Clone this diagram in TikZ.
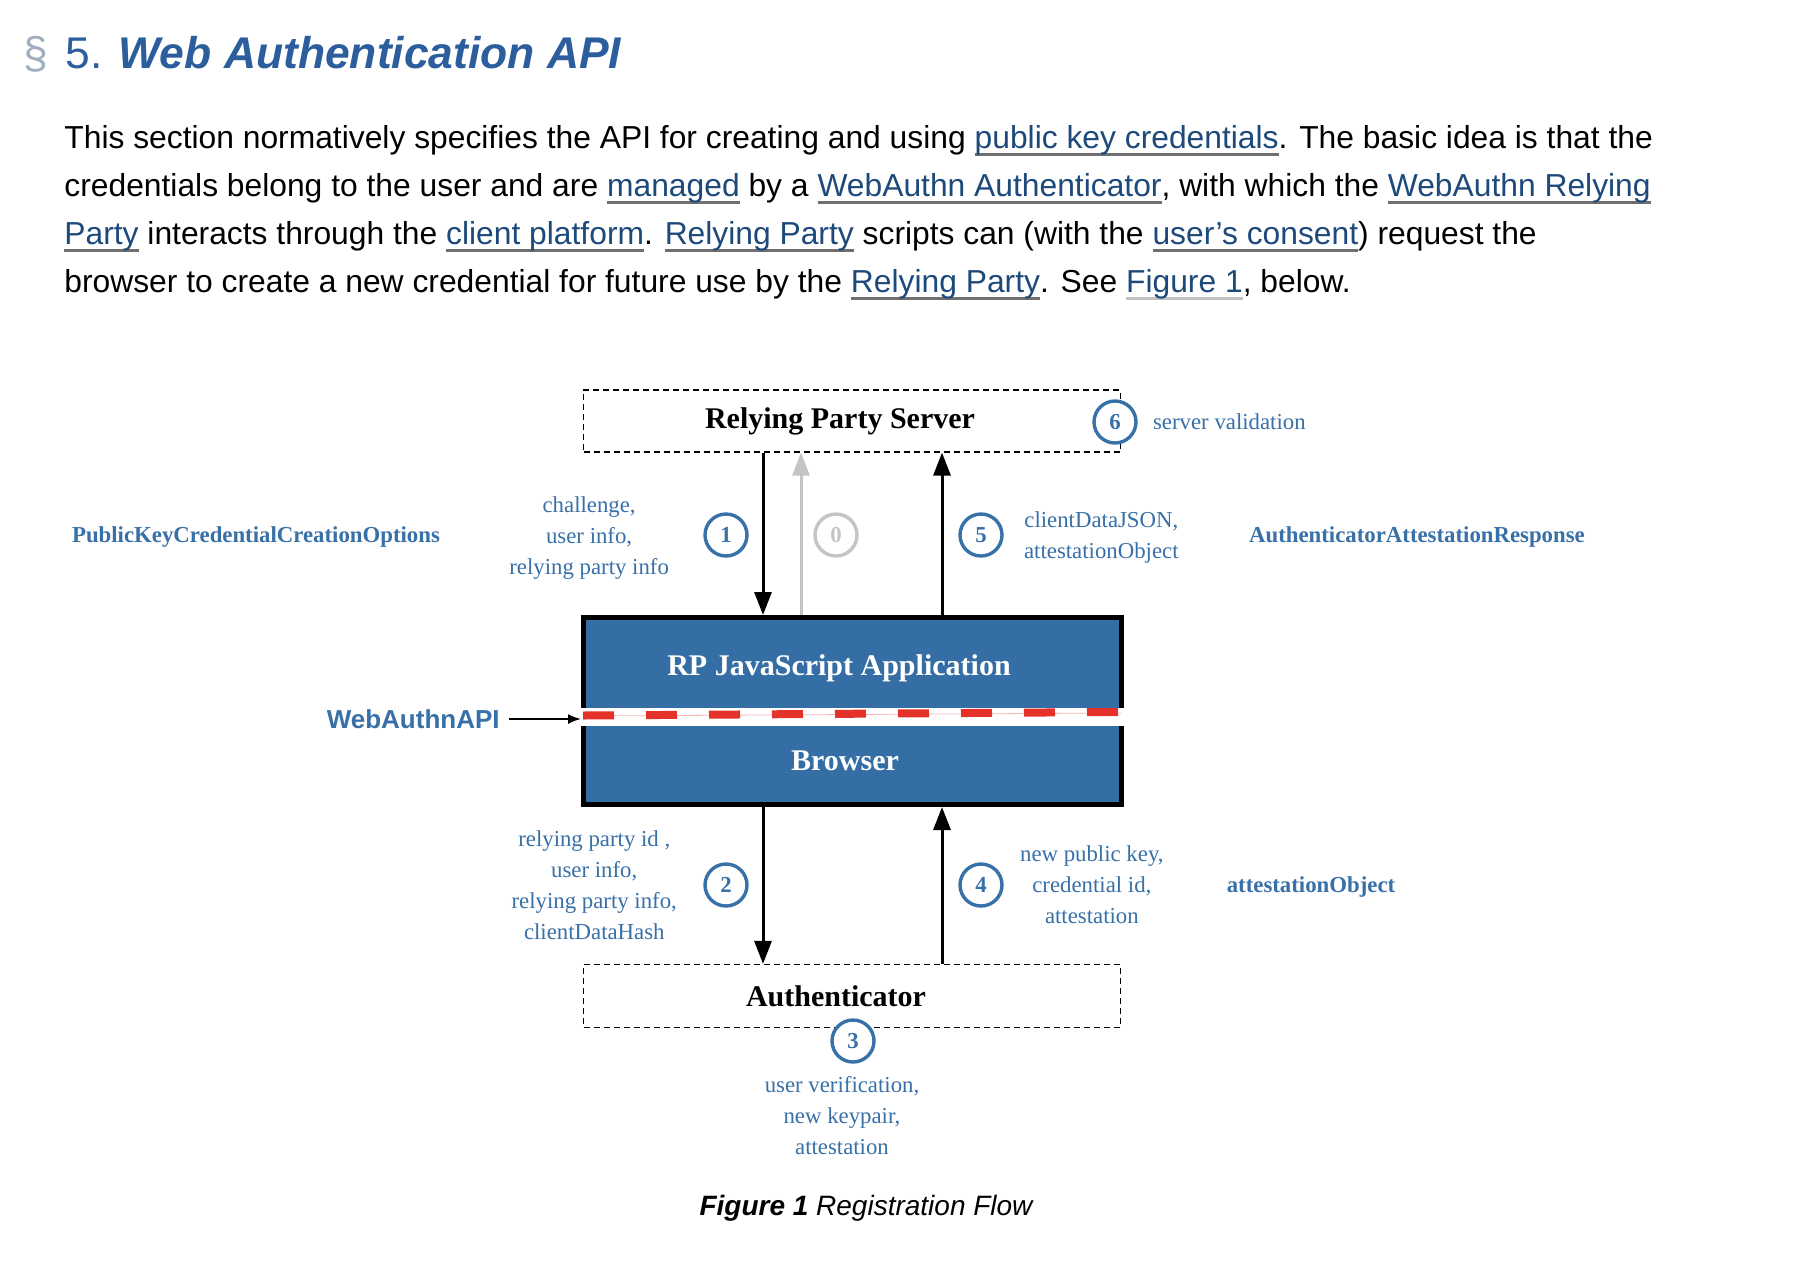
\documentclass[tikz,border=0pt]{standalone}
\usepackage{fontspec}
\setmainfont{Liberation Serif}
\setsansfont{Liberation Sans}
\usetikzlibrary{positioning,arrows.meta}
\definecolor{specHead}{HTML}{2C5E9E}
\definecolor{specSect}{HTML}{9FAEC0}
\definecolor{specLink}{HTML}{1D4A7A}
\definecolor{specLine}{HTML}{707070}
\definecolor{specLineLight}{HTML}{C2C2C2}
\definecolor{flowBlue}{HTML}{3870A8}
\definecolor{flowFill}{HTML}{346EA5}
\definecolor{flowGrey}{HTML}{C4C4C4}
\definecolor{flowRed}{HTML}{E4322B}
\newsavebox\lnkbox
\newcommand\speclink[2][specLine]{\sbox\lnkbox{\color{specLink}#2}\rlap{\color{#1}\rule[-0.24em]{\wd\lnkbox}{1.2pt}}\usebox\lnkbox}

\begin{document}
\begin{tikzpicture}[x=0.5pt, y=-0.5pt,
      body/.style={anchor=base west, inner sep=0pt, font=\sffamily\fontsize{15.9}{19}\selectfont},
      head/.style={anchor=base west, inner sep=0pt, font=\sffamily\fontsize{22.2}{26}\selectfont},
      party/.style={draw=black, line width=0.6pt, dash pattern=on 3pt off 2pt,
        minimum width=268.4pt, minimum height=31pt, font=\bfseries\fontsize{15}{18}\selectfont},
      app/.style={draw=black, line width=2.5pt, fill=flowFill, minimum width=269pt, minimum height=93.5pt},
      apptext/.style={text=white, inner sep=0pt, font=\bfseries\fontsize{15}{18}\selectfont},
      num/.style={circle, draw=flowBlue, line width=1.7pt, fill=white, minimum size=21pt, inner sep=0pt,
        text=flowBlue, font=\bfseries\fontsize{11.4}{13}\selectfont},
      lab/.style={inner sep=0pt, align=center, text=flowBlue, font=\fontsize{11.4}{15.5}\selectfont},
      api/.style={inner sep=0pt, text=flowBlue, font=\bfseries\fontsize{11.4}{14}\selectfont},
      arr/.style={-{Triangle[length=11.5pt,width=8.5pt]}, line width=1.5pt},
      thinarr/.style={-{Latex[length=6.5pt,width=5pt]}, line width=0.9pt}]
    \fill[white] (0,0) rectangle (1794,1270);
    \useasboundingbox (0,0) rectangle (1794,1270);
    \node[head, text=specSect] (sect) at (23,68) {\S};
    \node[head, text=specHead] (title) at (65,68) {5. \textbf{\textit{Web Authentication API}}};
    \node[body] (line1) at (64,148) {This section normatively specifies the API for creating and using \speclink{public key credentials}. The basic idea is that the};
    \node[body] (line2) at (64,196) {credentials belong to the user and are \speclink{managed} by a \speclink{WebAuthn Authenticator}, with which the \speclink{WebAuthn Relying}};
    \node[body] (line3) at (64,244) {\speclink{Party} interacts through the \speclink{client platform}. \speclink{Relying Party} scripts can (with the \speclink{user’s consent}) request the};
    \node[body] (line4) at (64,292) {browser to create a new credential for future use by the \speclink{Relying Party}. See \speclink[specLineLight]{Figure 1}, below.};

    \node[party] (rps) at (852,421) {Relying Party Server\hspace*{12pt}};
    \node[app] (app) at (852.5,711) {};
    \fill[white] (581,708) rectangle (1124,726);
    \draw[flowRed!35, line width=0.4pt] (583,716) -- (1121,713);
    \draw[flowRed, line width=4pt, dash pattern=on 15.5pt off 16pt] (583,715.5) -- (1121,712);
    \node[apptext] (appText) at (839,668) {RP JavaScript Application};
    \node[apptext] (browserText) at (845,761) {Browser};
    \node[party, minimum height=31.5pt] (auth) at (852,996) {Authenticator\hspace*{16pt}};

    \coordinate (laneA) at (763,0);
    \coordinate (laneB) at (801,0);
    \coordinate (laneC) at (942,0);
    \draw[arr] (rps.south -| laneA) -- (app.north -| laneA);
    \draw[arr, flowGrey] (app.north -| laneB) -- (rps.south -| laneB);
    \draw[arr] (app.north -| laneC) -- (rps.south -| laneC);
    \draw[arr] (app.south -| laneA) -- (auth.north -| laneA);
    \draw[arr] (auth.north -| laneC) -- (app.south -| laneC);

    \node[num] (n1) at (726,535) {1};
    \node[num, draw=flowGrey, text=flowGrey] (n0) at (836,535) {0};
    \node[num] (n5) at (981,535) {5};
    \node[num] (n6) at (1115,422) {6};
    \node[num] (n2) at (726,885) {2};
    \node[num] (n4) at (981,885) {4};
    \node[num] (n3) at (853,1041) {3};

    \node[lab, left=17pt of n1, yshift=-1.5pt] (l1) {challenge,\\user info,\\relying party info};
    \node[lab, right=10pt of n5, yshift=-1.5pt] (l5) {clientDataJSON,\\attestationObject};
    \node[lab, right=7.5pt of n6] (l6) {server validation};
    \node[lab, left=13pt of n2] (l2) {relying party id ,\\user info,\\relying party info,\\clientDataHash};
    \node[lab, right=8pt of n4] (l4) {new public key,\\credential id,\\attestation};
    \node[lab, below=6pt of n3, xshift=-5.5pt] (l3) {user verification,\\new keypair,\\attestation};

    \node[api] (optsName) at (256,537) {PublicKeyCredentialCreationOptions};
    \node[api] (respName) at (1417,537) {AuthenticatorAttestationResponse};
    \node[api] (attName) at (1311,887) {attestationObject};
    \node[inner sep=0pt, anchor=east, text=flowBlue, font=\sffamily\bfseries\fontsize{13}{15}\selectfont] (webapi) at (500,719) {WebAuthnAPI};
    \draw[thinarr] ([xshift=4.5pt]webapi.east) -- (webapi -| app.west);

    \node[anchor=base, inner sep=0pt, font=\sffamily\itshape\fontsize{14}{17}\selectfont] (caption) at (866,1215) {\textbf{Figure 1} Registration Flow};
  \end{tikzpicture}
\end{document}
